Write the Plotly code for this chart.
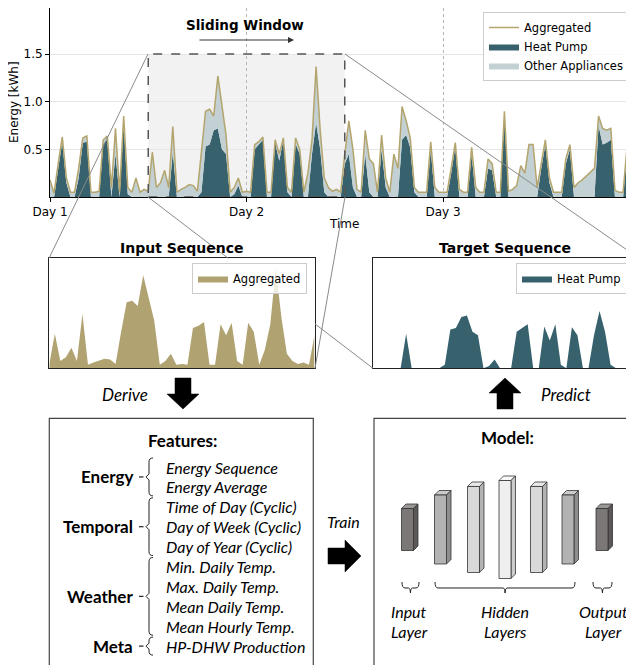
import plotly.graph_objects as go

# The page body has an 8px margin, so the figure is placed at (8, 8) in the window.
OFF = 8
W, H = 634 - OFF, 665 - OFF


def px(x):
    return (x - OFF) / W


def py(y):
    return 1 - (y - OFF) / H


# ---------------- data (30-min resolution, days since "Day 1") ----------------
aggregated = [
    0.18, 0.04, 0.35, 0.63, 0.20, 0.05, 0.05, 0.30, 0.62, 0.64, 0.05, 0.05,
    0.06, 0.60, 0.64, 0.10, 0.72, 0.05, 0.85, 0.10, 0.05, 0.20, 0.05, 0.08,
    0.06, 0.47, 0.10, 0.15, 0.28, 0.10, 0.74, 0.05, 0.08, 0.10, 0.13, 0.12,
    0.06, 0.50, 0.90, 0.92, 0.85, 1.27, 0.95, 0.65, 0.05, 0.10, 0.20, 0.05,
    0.06, 0.05, 0.55, 0.58, 0.63, 0.05, 0.05, 0.60, 0.45, 0.62, 0.10, 0.05,
    0.62, 0.50, 0.05, 0.25, 0.60, 1.37, 0.70, 0.20, 0.10, 0.06, 0.08, 0.05,
    0.45, 0.80, 0.50, 0.08, 0.05, 0.70, 0.40, 0.35, 0.05, 0.65, 0.20, 0.05,
    0.45, 0.30, 0.95, 0.80, 0.62, 0.10, 0.05, 0.05, 0.05, 0.58, 0.10, 0.05,
    0.05, 0.05, 0.30, 0.57, 0.08, 0.05, 0.05, 0.52, 0.10, 0.05, 0.05, 0.40,
    0.35, 0.05, 0.05, 0.90, 0.06, 0.08, 0.12, 0.33, 0.25, 0.55, 0.55, 0.10,
    0.35, 0.60, 0.20, 0.05, 0.05, 0.05, 0.40, 0.55, 0.10, 0.15, 0.18, 0.22,
    0.27, 0.30, 0.85, 0.72, 0.70, 0.72, 0.07, 0.05, 0.05, 0.55, 0.40, 0.05,
]
heat_pump = [
    0.00, 0.00, 0.30, 0.58, 0.15, 0.00, 0.00, 0.20, 0.57, 0.58, 0.00, 0.00,
    0.00, 0.56, 0.60, 0.00, 0.45, 0.00, 0.78, 0.03, 0.00, 0.00, 0.00, 0.00,
    0.00, 0.00, 0.00, 0.00, 0.00, 0.00, 0.47, 0.00, 0.00, 0.00, 0.00, 0.00,
    0.00, 0.05, 0.53, 0.55, 0.70, 0.72, 0.50, 0.45, 0.00, 0.03, 0.12, 0.00,
    0.00, 0.00, 0.50, 0.55, 0.60, 0.00, 0.00, 0.57, 0.38, 0.60, 0.05, 0.00,
    0.56, 0.45, 0.00, 0.00, 0.45, 0.78, 0.50, 0.05, 0.00, 0.00, 0.00, 0.00,
    0.35, 0.45, 0.10, 0.00, 0.00, 0.45, 0.05, 0.00, 0.00, 0.50, 0.10, 0.00,
    0.00, 0.00, 0.60, 0.65, 0.52, 0.05, 0.00, 0.00, 0.00, 0.50, 0.00, 0.00,
    0.00, 0.00, 0.25, 0.53, 0.00, 0.00, 0.00, 0.45, 0.00, 0.00, 0.00, 0.30,
    0.28, 0.00, 0.00, 0.85, 0.00, 0.00, 0.00, 0.00, 0.00, 0.00, 0.00, 0.00,
    0.30, 0.55, 0.15, 0.00, 0.00, 0.00, 0.35, 0.50, 0.00, 0.00, 0.00, 0.00,
    0.00, 0.00, 0.75, 0.55, 0.57, 0.60, 0.00, 0.00, 0.00, 0.50, 0.35, 0.00,
]
step_days = 0.5 / 24
time_days = [i * step_days for i in range(len(aggregated))]

day_ticks = [0, 1, 2]
day_labels = ["Day 1", "Day 2", "Day 3"]
energy_ticks = [0.5, 1.0, 1.5]
energy_labels = ["0.5", "1.0", "1.5"]
window_start, window_end, window_height = 0.5, 1.5, 1.5

win_idx = [i for i, tt in enumerate(time_days) if window_start - 1e-9 <= tt <= window_end + 1e-9]
win_t = [time_days[i] for i in win_idx]
win_agg = [aggregated[i] for i in win_idx]
win_hp = [heat_pump[i] for i in win_idx]

feature_groups = [
    ("Energy", ["Energy Sequence", "Energy Average"]),
    ("Temporal", ["Time of Day (Cyclic)", "Day of Week (Cyclic)", "Day of Year (Cyclic)"]),
    ("Weather", ["Min. Daily Temp.", "Max. Daily Temp.", "Mean Daily Temp.", "Mean Hourly Temp."]),
    ("Meta", ["HP-DHW Production"]),
]
model_layer_sizes = [42, 69, 86, 98, 86, 69, 42]
model_layer_colors = [
    ("#7b7777", "#9b9797", "#5c5858"),
    ("#b3b3b3", "#cbcbcb", "#8f8f8f"),
    ("#d9d9d9", "#e8e8e8", "#b3b3b3"),
    ("#efefef", "#f8f8f8", "#cccccc"),
    ("#d9d9d9", "#e8e8e8", "#b3b3b3"),
    ("#b3b3b3", "#cbcbcb", "#8f8f8f"),
    ("#7b7777", "#9b9797", "#5c5858"),
]

TEAL = "#36616d"
LIGHT = "#c3d0d4"
OLIVE = "#b3a56d"
OLIVE_FILL = "#b0a371"
MPL = "DejaVu Sans"
CAL = "Lato"

fig = go.Figure()

# main chart
fig.add_trace(go.Scatter(x=time_days, y=heat_pump, mode="lines", line=dict(width=0, color=TEAL),
                         fill="tozeroy", fillcolor=TEAL, name="Heat Pump", legend="legend", legendrank=2))
fig.add_trace(go.Scatter(x=time_days, y=aggregated, mode="lines", line=dict(width=0, color=LIGHT),
                         fill="tonexty", fillcolor=LIGHT, name="Other Appliances", legend="legend", legendrank=3))
fig.add_trace(go.Scatter(x=time_days, y=aggregated, mode="lines", line=dict(width=1.5, color=OLIVE),
                         name="Aggregated", legend="legend", legendrank=1))
# input sequence
fig.add_trace(go.Scatter(x=win_t, y=win_agg, xaxis="x2", yaxis="y2", mode="lines",
                         line=dict(width=0, color=OLIVE_FILL), fill="tozeroy", fillcolor=OLIVE_FILL,
                         name="Aggregated", legend="legend2"))
# target sequence
fig.add_trace(go.Scatter(x=win_t, y=win_hp, xaxis="x3", yaxis="y3", mode="lines",
                         line=dict(width=0, color=TEAL), fill="tozeroy", fillcolor=TEAL,
                         name="Heat Pump", legend="legend3"))

tick_font = dict(family=MPL, size=12, color="#000")
px_per_day = 196.5
px_per_kwh = 95.3
main_xmax = (634 - 50) / px_per_day
main_ymax = (197 - OFF) / px_per_kwh

shapes = []
# sliding window
shapes.append(dict(type="rect", xref="x", yref="y", x0=window_start, x1=window_end, y0=0, y1=window_height,
                   fillcolor="#f2f2f2", line=dict(width=0), layer="below"))
shapes.append(dict(type="rect", xref="x", yref="y", x0=window_start, x1=window_end, y0=0, y1=window_height,
                   fillcolor="rgba(0,0,0,0)", line=dict(width=1.5, color="#555555", dash="dash"), layer="above"))


def seg(x0, y0, x1, y1, color="#8a8a8a", width=1):
    shapes.append(dict(type="line", xref="paper", yref="paper", x0=px(x0), y0=py(y0), x1=px(x1), y1=py(y1),
                       line=dict(color=color, width=width), layer="above"))


def path(points, closed=True, fill=None, color="#000", width=1):
    d = "M " + " L ".join(f"{px(a):.5f},{py(b):.5f}" for a, b in points)
    if closed:
        d += " Z"
    shapes.append(dict(type="path", xref="paper", yref="paper", path=d,
                       fillcolor=fill if fill else "rgba(0,0,0,0)",
                       line=dict(color=color, width=width), layer="above"))


# zoom connector lines
seg(148, 54, 49, 258.3)
seg(148, 197, 228.3, 258.3)
seg(315, 323.9, 373, 368.3)
seg(345, 54, 639, 258.3)
seg(345, 197, 315, 368.3)

# boxes
shapes.append(dict(type="rect", xref="paper", yref="paper", x0=px(49.3), x1=px(313.3), y0=py(418.3), y1=-0.02,
                   line=dict(color="#444", width=1.2), fillcolor="rgba(0,0,0,0)"))
shapes.append(dict(type="rect", xref="paper", yref="paper", x0=px(374), x1=1.02, y0=py(418.3), y1=-0.02,
                   line=dict(color="#444", width=1.2), fillcolor="rgba(0,0,0,0)"))

# block arrows
path([(175, 378), (191, 378), (191, 394), (199, 394), (183, 409), (167, 394), (175, 394)], fill="#000", width=0.5)
path([(497, 409), (513, 409), (513, 393), (521, 393), (505, 378), (489, 393), (497, 393)], fill="#000", width=0.5)
path([(328, 548), (345, 548), (345, 540), (361, 556), (345, 572), (345, 564), (328, 564)], fill="#000", width=0.5)

annotations = []


def text(x, y, s, size=11, family=MPL, xanchor="center", angle=0, color="#000"):
    annotations.append(dict(x=px(x), y=py(y), xref="paper", yref="paper", text=s, showarrow=False,
                            xanchor=xanchor, yanchor="middle", textangle=angle,
                            font=dict(family=family, size=size, color=color)))


# main chart texts
text(344, 224, "Time", 12)
text(14, 102, "Energy [kWh]", 12, angle=-90)
text(245, 25, "<b>Sliding Window</b>", 13.5)
annotations.append(dict(x=px(294), y=py(40), xref="paper", yref="paper", ax=-96, ay=0, text="",
                        showarrow=True, arrowhead=2, arrowsize=1, arrowwidth=1.2, arrowcolor="#333"))
text(182, 248, "<b>Input Sequence</b>", 14)
text(505, 248, "<b>Target Sequence</b>", 14)
text(125, 394, "<i>Derive</i>", 17, CAL)
text(566, 394, "<i>Predict</i>", 17, CAL)
text(343, 521, "<i>Train</i>", 16, CAL)

# features
text(182, 440, "<b>Features:</b>", 17, CAL)
item_y0, item_dy = 467, 19.9
k = 0
for name, items in feature_groups:
    ys = [item_y0 + (k + j) * item_dy for j in range(len(items))]
    k += len(items)
    ytop, ybot = ys[0] - 9, ys[-1] + 9
    ymid = (ytop + ybot) / 2
    text(135, ymid, f"<b>{name}</b>", 17, CAL, xanchor="right")
    for yy, it in zip(ys, items):
        text(164, yy, f"<i>{it}</i>", 16, CAL, xanchor="left")
    xb = 149
    d = (f"M {px(xb + 4):.5f},{py(ytop):.5f} Q {px(xb):.5f},{py(ytop):.5f} {px(xb):.5f},{py(ytop + 4):.5f} "
         f"L {px(xb):.5f},{py(ymid - 3):.5f} L {px(xb - 3):.5f},{py(ymid):.5f} L {px(xb):.5f},{py(ymid + 3):.5f} "
         f"L {px(xb):.5f},{py(ybot - 4):.5f} Q {px(xb):.5f},{py(ybot):.5f} {px(xb + 4):.5f},{py(ybot):.5f}")
    shapes.append(dict(type="path", xref="paper", yref="paper", path=d, line=dict(color="#222", width=1)))
    seg(139, ymid, 143.5, ymid, color="#222", width=1.2)

# model
text(507, 437, "<b>Model:</b>", 17, CAL)
centers = [407.5, 440.5, 473.5, 505, 536.5, 568, 602]
bw, dep, cy = 12, 4.5, 529.5
for cx, hgt, (cf, ct, cs) in zip(centers, model_layer_sizes, model_layer_colors):
    x0, x1 = cx - bw / 2, cx + bw / 2
    y0, y1 = cy - hgt / 2, cy + hgt / 2
    path([(x0, y0), (x0 + dep, y0 - dep), (x1 + dep, y0 - dep), (x1, y0)], fill=ct, color="#333", width=0.8)
    path([(x1, y0), (x1 + dep, y0 - dep), (x1 + dep, y1 - dep), (x1, y1)], fill=cs, color="#333", width=0.8)
    path([(x0, y0), (x1, y0), (x1, y1), (x0, y1)], fill=cf, color="#333", width=0.8)


def brace(xa, xb_, ytop=582, ybot=588):
    xm = (xa + xb_) / 2
    d = (f"M {px(xa):.5f},{py(ytop):.5f} Q {px(xa):.5f},{py(ybot):.5f} {px(xa + 3):.5f},{py(ybot):.5f} "
         f"L {px(xm - 2):.5f},{py(ybot):.5f} Q {px(xm):.5f},{py(ybot):.5f} {px(xm):.5f},{py(ybot + 5):.5f} "
         f"Q {px(xm):.5f},{py(ybot):.5f} {px(xm + 2):.5f},{py(ybot):.5f} "
         f"L {px(xb_ - 3):.5f},{py(ybot):.5f} Q {px(xb_):.5f},{py(ybot):.5f} {px(xb_):.5f},{py(ytop):.5f}")
    shapes.append(dict(type="path", xref="paper", yref="paper", path=d, line=dict(color="#222", width=1)))


brace(402, 419)
brace(435, 575)
brace(593, 612)
for cx, l1, l2 in [(409, "Input", "Layer"), (505, "Hidden", "Layers"), (603, "Output", "Layer")]:
    text(cx, 611, f"<i>{l1}</i>", 16, CAL)
    text(cx, 631, f"<i>{l2}</i>", 16, CAL)

legend_common = dict(bgcolor="rgba(255,255,255,0.8)", bordercolor="#cccccc", borderwidth=1,
                     font=dict(family=MPL, size=11.5, color="#000"), xanchor="left", yanchor="top",
                     xref="paper", yref="paper", tracegroupgap=0, traceorder="normal", itemwidth=30)

axis_off = dict(showticklabels=False, ticks="", showline=True, linecolor="#222",
                showgrid=False, zeroline=False, automargin=False)

fig.update_layout(
    width=W, height=H, margin=dict(l=0, r=0, t=0, b=0, autoexpand=False),
    paper_bgcolor="white", plot_bgcolor="white",
    shapes=shapes, annotations=annotations,
    legend=dict(x=px(483), y=py(12), **legend_common),
    legend2=dict(x=px(192), y=py(263), **legend_common),
    legend3=dict(x=px(516), y=py(263), **legend_common),
    xaxis=dict(domain=[px(50), 1], range=[0, main_xmax], tickvals=day_ticks, ticktext=day_labels,
               ticks="outside", ticklen=4, tickcolor="#000", showline=True, linecolor="#000", linewidth=1,
               mirror=True, showgrid=True, gridcolor="#b5b5b5", griddash="dot", gridwidth=1,
               zeroline=False, tickfont=tick_font, automargin=False),
    yaxis=dict(domain=[py(197), 1], range=[0, main_ymax], tickvals=energy_ticks, ticktext=energy_labels,
               ticks="outside", ticklen=4, tickcolor="#000", showline=True, linecolor="#000", linewidth=1,
               mirror=False, showgrid=True, gridcolor="#e6e6e6", gridwidth=1, zeroline=False,
               tickfont=tick_font, automargin=False),
    xaxis2=dict(domain=[px(49.3), px(314.5)], range=[window_start, window_end], anchor="y2",
                mirror=True, **axis_off),
    yaxis2=dict(domain=[py(368.3), py(258.3)], range=[0, window_height], anchor="x2",
                mirror=True, **axis_off),
    xaxis3=dict(domain=[px(373), 1], range=[window_start, window_start + (634 - 373) / 265.2], anchor="y3",
                mirror=True, **axis_off),
    yaxis3=dict(domain=[py(368.3), py(258.3)], range=[0, window_height], anchor="x3",
                mirror=False, **axis_off),
)

fig.write_html("out.html")
